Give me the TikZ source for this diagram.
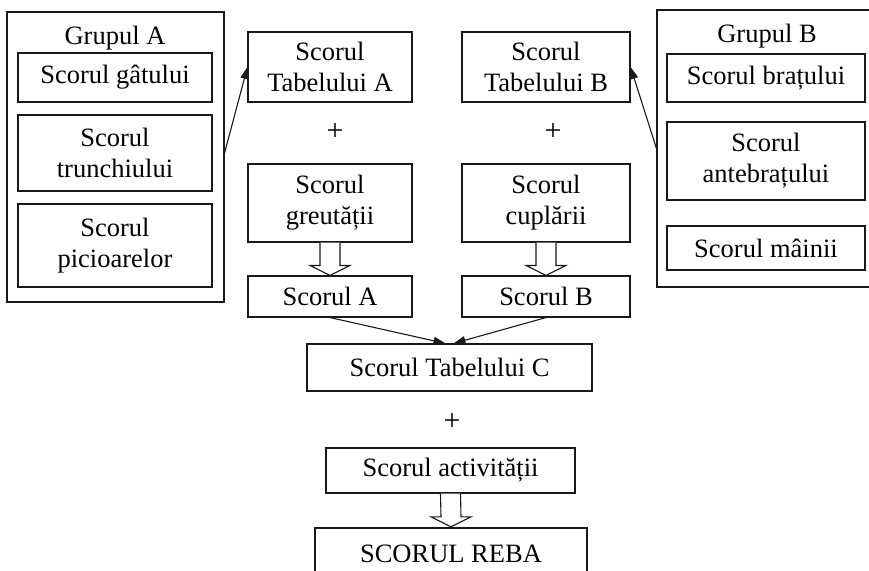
\documentclass[tikz,border=0pt]{standalone}
\usepackage{fontspec}
\setmainfont{Liberation Serif}
\usetikzlibrary{arrows.meta,calc}
\tikzset{
  boxn/.style={draw=black!90, line width=1.1pt, inner sep=0pt, align=center,
    font=\fontsize{26.5}{31}\selectfont},
  titlen/.style={inner sep=0pt, font=\fontsize{26.5}{31}\selectfont},
  plusn/.style={inner sep=0pt, font=\fontsize{30}{32}\selectfont},
  conn/.style={draw=black!90, line width=1.1pt, -{Triangle[length=12pt,width=8pt]}},
  hollow/.style={draw=black!90, line width=1.1pt, fill=white},
}
\newcommand{\hollowarr}[2]{%
  \draw[hollow] ($(#1.south)+(-10,0)$) -- ($(#2.north)+(-10,-10)$) -- ($(#2.north)+(-20,-10)$)
    -- (#2.north) -- ($(#2.north)+(20,-10)$) -- ($(#2.north)+(10,-10)$) -- ($(#1.south)+(10,0)$);}
\begin{document}
\begin{tikzpicture}[x=1pt,y=-1pt]
\useasboundingbox (0,0) rectangle (869,570);
\clip (0,0) rectangle (869,570);
% Group A
\node[boxn, minimum width=217, minimum height=290] (grpA) at (115.5,157) {};
\node[titlen] (titleA) at (115,38) {Grupul A};
\node[boxn, minimum width=194, minimum height=49] (gat) at (115,77.5) {Scorul gâtului};
\node[boxn, minimum width=194, minimum height=76] (trunchi) at (115,153) {Scorul\\trunchiului};
\node[boxn, minimum width=194, minimum height=83] (picioare) at (115,245.5) {Scorul\\picioarelor};
% Column A
\node[boxn, minimum width=164, minimum height=70] (tabA) at (330,67) {Scorul\\Tabelului A};
\node[plusn] (plusA) at (335,132) {+};
\node[boxn, minimum width=164, minimum height=78] (greut) at (330,203) {Scorul\\greutății};
\node[boxn, minimum width=164, minimum height=41] (scA) at (330,296.5) {Scorul A};
% Column B
\node[boxn, minimum width=168, minimum height=70] (tabB) at (546,67) {Scorul\\Tabelului B};
\node[plusn] (plusB) at (553,132) {+};
\node[boxn, minimum width=168, minimum height=78] (cupl) at (546,203) {Scorul\\cuplării};
\node[boxn, minimum width=168, minimum height=41] (scB) at (546,296.5) {Scorul B};
% Group B
\node[boxn, minimum width=228, minimum height=277] (grpB) at (771,148.5) {};
\node[titlen] (titleB) at (767,36) {Grupul B};
\node[boxn, minimum width=198, minimum height=48] (brat) at (766,78) {Scorul brațului};
\node[boxn, minimum width=198, minimum height=78] (antebrat) at (766,161) {Scorul\\antebrațului};
\node[boxn, minimum width=198, minimum height=44] (mana) at (766,248) {Scorul mâinii};
% Bottom
\node[boxn, minimum width=285, minimum height=47] (tabC) at (449.5,367.5) {Scorul Tabelului C};
\node[plusn] (plusC) at (452,422) {+};
\node[boxn, minimum width=249, minimum height=45] (activ) at (450.5,470.5) {Scorul activității};
\node[boxn, line width=2.4pt, minimum width=272, minimum height=52] (reba) at (451,554) {SCORUL REBA};
% connectors
\draw[conn] (trunchi -| grpA.east) -- (tabA.west);
\draw[conn] (grpB.west) -- (tabB.east);
\draw[conn] (scA.south) -- ($(tabC.north)+(-4,0)$);
\draw[conn] (scB.south) -- ($(tabC.north)+(4,0)$);
\hollowarr{greut}{scA}
\hollowarr{cupl}{scB}
\hollowarr{activ}{reba}
\end{tikzpicture}
\end{document}
